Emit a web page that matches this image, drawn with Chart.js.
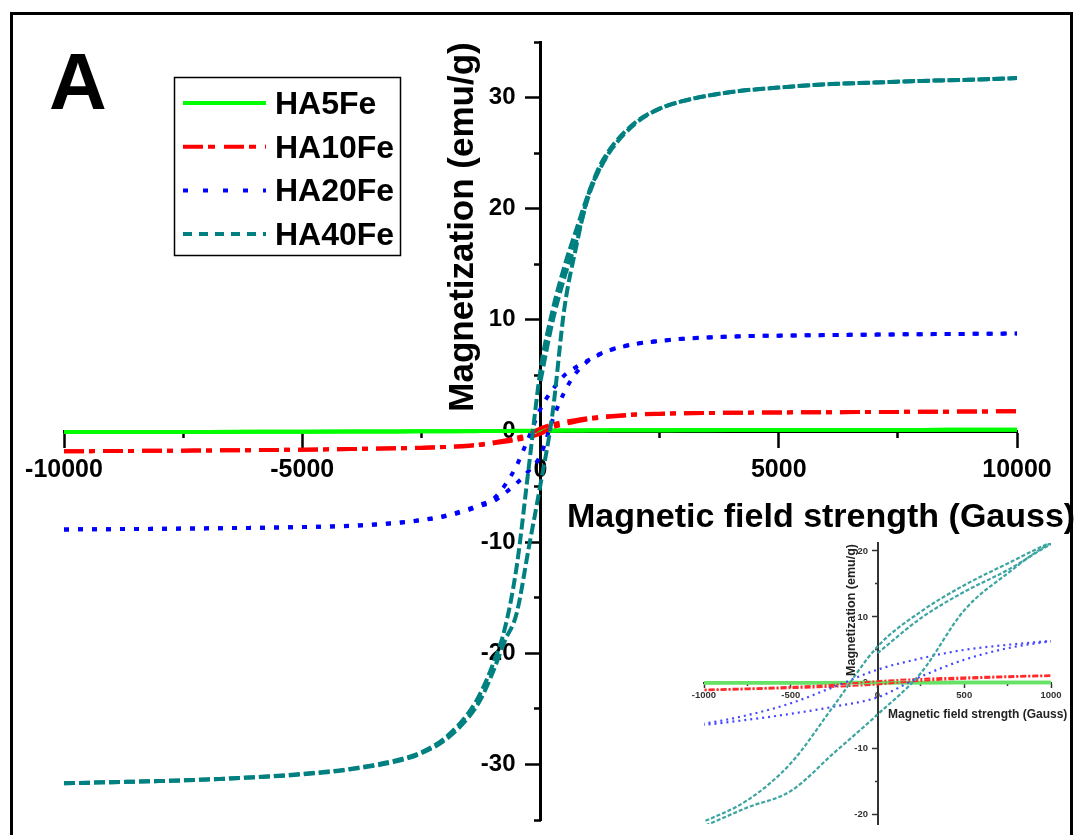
<!DOCTYPE html>
<html>
<head>
<meta charset="utf-8">
<title>HA-Fe magnetization</title>
<script src="https://cdn.jsdelivr.net/npm/chart.js@4.4.1/dist/chart.umd.min.js"></script>
<style>
  body { margin: 0; background: #fff; }
  #wrap { position: relative; width: 1074px; height: 835px; overflow: hidden; }
  #mainChart { position: absolute; left: 0; top: 0; }
  #insetChart { position: absolute; left: 640px; top: 530px; }
</style>
</head>
<body>
<div id="wrap">
  <canvas id="mainChart" width="1074" height="835"></canvas>
  <canvas id="insetChart" width="434" height="305"></canvas>
</div>
<script>
// field grid (Gauss), shared by every branch
const field = [-10000, -9000, -8000, -7000, -6000, -5000, -4000, -3000, -2500, -2000, -1500, -1250,
  -1000, -750, -500, -250, 0, 250, 500, 750, 1000,
  1250, 1500, 2000, 2500, 3000, 4000, 5000, 6000, 7000, 8000, 9000, 10000];

// magnetization (emu/g), descending and ascending branches
const ha5Down = [-0.10, -0.10, -0.09, -0.08, -0.07, -0.06, -0.05, -0.04, -0.03, -0.02, -0.01, 0.00,
  0.00, 0.01, 0.02, 0.03, 0.04, 0.05, 0.05, 0.05, 0.06,
  0.06, 0.06, 0.07, 0.07, 0.08, 0.08, 0.09, 0.09, 0.10, 0.10, 0.11, 0.12];
const ha5Up = [-0.10, -0.10, -0.09, -0.08, -0.07, -0.06, -0.05, -0.04, -0.03, -0.02, -0.02, -0.01,
  -0.01, 0.00, 0.00, 0.01, 0.02, 0.03, 0.04, 0.04, 0.05,
  0.05, 0.06, 0.06, 0.07, 0.07, 0.08, 0.08, 0.09, 0.09, 0.10, 0.11, 0.12];

const ha10Down = [-1.83, -1.80, -1.78, -1.75, -1.72, -1.68, -1.62, -1.55, -1.50, -1.43, -1.30, -1.20,
  -1.02, -0.85, -0.62, -0.30, 0.25, 0.60, 0.82, 1.00, 1.15,
  1.27, 1.36, 1.50, 1.56, 1.60, 1.64, 1.67, 1.69, 1.71, 1.73, 1.75, 1.78];
const ha10Up = [-1.83, -1.80, -1.78, -1.75, -1.72, -1.68, -1.62, -1.56, -1.52, -1.45, -1.34, -1.25,
  -1.12, -0.98, -0.80, -0.58, -0.25, 0.32, 0.62, 0.86, 1.04,
  1.18, 1.30, 1.46, 1.54, 1.59, 1.64, 1.67, 1.69, 1.71, 1.73, 1.75, 1.78];

const ha20Down = [-8.86, -8.83, -8.80, -8.76, -8.71, -8.64, -8.53, -8.25, -8.00, -7.62, -7.00, -6.60,
  -6.15, -4.90, -3.10, -0.60, 2.00, 3.70, 5.00, 5.76, 6.36,
  6.95, 7.35, 7.85, 8.10, 8.30, 8.50, 8.58, 8.63, 8.67, 8.71, 8.74, 8.77];
const ha20Up = [-8.86, -8.83, -8.80, -8.76, -8.71, -8.64, -8.54, -8.27, -8.03, -7.68, -7.10, -6.72,
  -6.36, -5.60, -4.70, -3.60, -2.20, 0.95, 3.50, 5.25, 6.30,
  6.90, 7.32, 7.83, 8.10, 8.30, 8.50, 8.58, 8.63, 8.67, 8.71, 8.74, 8.77];

const ha40Down = [-31.70, -31.60, -31.50, -31.35, -31.15, -30.85, -30.40, -29.60, -28.90, -27.60, -25.30, -23.50,
  -21.00, -17.80, -12.20, -3.40, 5.50, 10.80, 14.80, 18.10, 21.30,
  23.90, 25.60, 27.80, 29.00, 29.70, 30.50, 30.90, 31.20, 31.35, 31.50, 31.60, 31.75];
const ha40Up = [-31.70, -31.60, -31.50, -31.35, -31.15, -30.90, -30.45, -29.70, -29.00, -27.80, -25.70, -24.10,
  -21.70, -18.90, -16.40, -10.60, -4.80, 1.50, 11.00, 16.60, 21.20,
  23.60, 25.40, 27.70, 29.00, 29.70, 30.50, 30.90, 31.20, 31.35, 31.50, 31.60, 31.75];
// extra HA40Fe branch seen between 0 and ~1500 G
const ha40InnerField = [0, 250, 500, 750, 1000, 1250, 1500];
const ha40Inner = [4.5, 9.8, 13.8, 17.1, 21.0, 23.7, 25.5];

const sampleNames = ['HA5Fe', 'HA10Fe', 'HA20Fe', 'HA40Fe'];

const xTicks = [-10000, -5000, 0, 5000, 10000];
const xMinorTicks = [-7500, -2500, 2500, 7500];
const yTicks = [-30, -20, -10, 0, 10, 20, 30];
const yMinorTicks = [-35, -25, -15, -5, 5, 15, 25, 35];
const insetXTicks = [-1000, -500, 0, 500, 1000];
const insetXMinorTicks = [-750, -250, 250, 750];
const insetYTicks = [-20, -10, 0, 10, 20];
const insetYMinorTicks = [-15, -5, 5, 15];

const FONT = '"Liberation Sans", Arial, sans-serif';
Chart.defaults.font.family = FONT;

const mainStyles = [
  { color: '#00ff00', width: 4, dash: [], legendDash: [] },
  { color: '#ff0000', width: 4, dash: [20, 5, 6, 8], legendDash: [20, 5, 7, 9] },
  { color: '#0000ff', width: 4, dash: [5, 9], legendDash: [5, 15] },
  { color: '#008080', width: 4, dash: [11, 4], legendDash: [9, 7] }
];
const insetStyles = [
  { color: '#66e266', width: 3.5, dash: [] },
  { color: '#ff2b2b', width: 2, dash: [6, 2, 2, 2] },
  { color: '#4646ff', width: 2.2, dash: [2, 4] },
  { color: '#3ca5a1', width: 2.2, dash: [4, 2] }
];

function buildSets(st) {
  const branches = [
    [3, field, ha40Down], [3, field, ha40Up], [3, ha40InnerField, ha40Inner],
    [2, field, ha20Down], [2, field, ha20Up],
    [1, field, ha10Down], [1, field, ha10Up],
    [0, field, ha5Down], [0, field, ha5Up]
  ];
  return branches.map(([k, xs, ys]) => ({
    label: sampleNames[k],
    data: xs.map((x, i) => ({ x: x, y: ys[i] })),
    showLine: true,
    pointRadius: 0,
    fill: false,
    borderColor: st[k].color,
    borderWidth: st[k].width,
    borderDash: st[k].dash,
    cubicInterpolationMode: 'monotone'
  }));
}

// one axis = either the line with its tick marks, or only the labels
function makeAxis(min, max, at, ticks, len, o) {
  return {
    type: 'linear', min: min, max: max, position: at,
    afterBuildTicks: axis => { axis.ticks = ticks.map(v => ({ value: v })); },
    grid: { display: len > 0, drawOnChartArea: false, tickLength: len, tickWidth: o.tickWidth, tickColor: o.color },
    border: { display: !!o.border, color: o.color, width: o.borderWidth || 0 },
    ticks: {
      display: !!o.font, font: o.font, color: o.color, padding: o.pad || 0,
      autoSkip: false, maxRotation: 0, callback: v => String(v)
    }
  };
}

const mainDecor = {
  id: 'mainDecor',
  afterDraw(chart) {
    const ctx = chart.ctx;
    ctx.save();
    ctx.strokeStyle = '#000';
    ctx.lineWidth = 3;
    ctx.strokeRect(11.5, 13.5, 1060, 840);

    ctx.fillStyle = '#000';
    ctx.textAlign = 'left';
    ctx.textBaseline = 'alphabetic';
    ctx.font = 'bold 80px ' + FONT;
    ctx.fillText('A', 49, 109);

    ctx.font = 'bold 34px ' + FONT;
    ctx.fillText('Magnetic field strength (Gauss)', 567, 527);

    ctx.save();
    ctx.translate(473, 227);
    ctx.rotate(-Math.PI / 2);
    ctx.textAlign = 'center';
    ctx.font = 'bold 35px ' + FONT;
    ctx.fillText('Magnetization (emu/g)', 0, 0);
    ctx.restore();

    // legend
    ctx.lineWidth = 1.5;
    ctx.strokeStyle = '#000';
    ctx.strokeRect(174.5, 77.5, 226, 178);
    ctx.font = 'bold 32px ' + FONT;
    ctx.textBaseline = 'middle';
    sampleNames.forEach((name, i) => {
      const st = mainStyles[i];
      const y = 103 + i * 43.7;
      ctx.beginPath();
      ctx.setLineDash(st.legendDash);
      ctx.lineWidth = st.width;
      ctx.strokeStyle = st.color;
      ctx.moveTo(183, y);
      ctx.lineTo(266, y);
      ctx.stroke();
      ctx.setLineDash([]);
      ctx.fillStyle = '#000';
      ctx.fillText(name, 275, y + 2);
    });
    ctx.restore();
  }
};

const insetDecor = {
  id: 'insetDecor',
  afterDraw(chart) {
    const ctx = chart.ctx;
    ctx.save();
    ctx.fillStyle = '#222';
    ctx.textBaseline = 'alphabetic';
    ctx.textAlign = 'left';
    ctx.font = 'bold 12px ' + FONT;
    ctx.fillText('Magnetic field strength (Gauss)', 248, 188);
    ctx.translate(215, 80);
    ctx.rotate(-Math.PI / 2);
    ctx.textAlign = 'center';
    ctx.font = 'bold 12.5px ' + FONT;
    ctx.fillText('Magnetization (emu/g)', 0, 0);
    ctx.restore();
  }
};

const mainLine = { color: '#000', tickWidth: 2.5, border: true, borderWidth: 3 };
const mainMinor = { color: '#000', tickWidth: 2.5 };
const mainLabels = { color: '#000', font: { size: 24, weight: 'bold' } };

new Chart(document.getElementById('mainChart').getContext('2d'), {
  type: 'scatter',
  data: { datasets: buildSets(mainStyles) },
  options: {
    responsive: false,
    animation: false,
    layout: { padding: { left: 64, right: 57, top: 42, bottom: 15 } },
    plugins: { legend: { display: false }, tooltip: { enabled: false } },
    scales: {
      x: makeAxis(-10000, 10000, { y: 0 }, xTicks, 15,
        Object.assign({ font: { size: 25, weight: 'bold' }, pad: 9 }, mainLine)),
      xm: makeAxis(-10000, 10000, { y: 0 }, xMinorTicks, 7, mainMinor),
      y: makeAxis(-35, 35, { x: 0 }, yTicks, 14, mainLine),
      ym: makeAxis(-35, 35, { x: 0 }, yMinorTicks, 7, mainMinor),
      yl: makeAxis(-35, 35, { x: -525 }, yTicks, 0, mainLabels)
    }
  },
  plugins: [mainDecor]
});

const insetLine = { color: '#333', tickWidth: 1.5, border: true, borderWidth: 2 };
const insetMinor = { color: '#333', tickWidth: 1.5 };
const insetLabels = { color: '#333', font: { size: 9.5, weight: 'bold' } };

new Chart(document.getElementById('insetChart').getContext('2d'), {
  type: 'scatter',
  data: { datasets: buildSets(insetStyles) },
  options: {
    responsive: false,
    animation: false,
    layout: { padding: { left: 64, right: 23, top: 13, bottom: 11 } },
    plugins: { legend: { display: false }, tooltip: { enabled: false } },
    scales: {
      x: makeAxis(-1000, 1000, { y: 0 }, insetXTicks, 4,
        Object.assign({ font: { size: 9.5, weight: 'bold' }, pad: 3 }, insetLine)),
      xm: makeAxis(-1000, 1000, { y: 0 }, insetXMinorTicks, 3, insetMinor),
      y: makeAxis(-21.4, 21.2, { x: 0 }, insetYTicks, 5, insetLine),
      ym: makeAxis(-21.4, 21.2, { x: 0 }, insetYMinorTicks, 3, insetMinor),
      yl: makeAxis(-21.4, 21.2, { x: -55 }, insetYTicks, 0, insetLabels)
    }
  },
  plugins: [insetDecor]
});
</script>
</body>
</html>
